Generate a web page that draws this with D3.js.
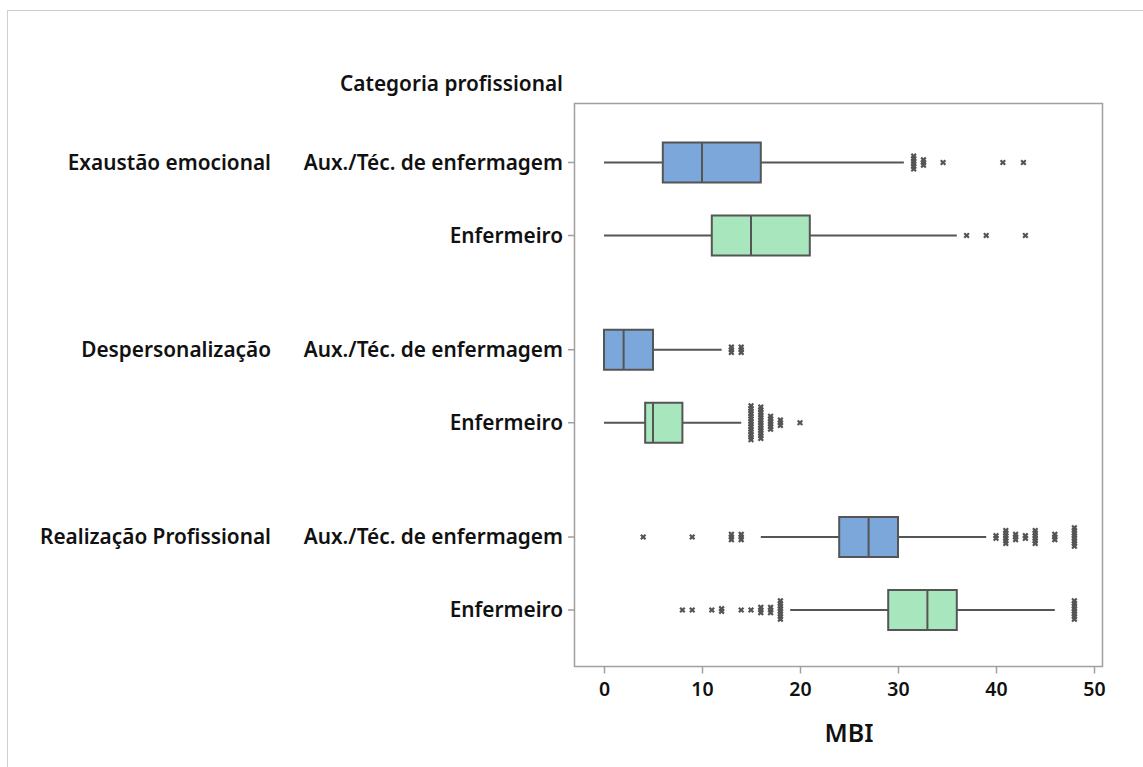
<!DOCTYPE html>
<html>
<head>
<meta charset="utf-8">
<script src="https://cdn.jsdelivr.net/npm/d3@7"></script>
<style>
  body { margin: 0; background: #fff; }
  text { font-family: 'Noto Sans', sans-serif; font-weight: 600; fill: #111; }
</style>
</head>
<body>
<div class="canvas"></div>
<script>
// data
const groups = ["Exaustão emocional", "Despersonalização", "Realização Profissional"];
const categories = ["Aux./Téc. de enfermagem", "Enfermeiro"];
const whiskerLow  = [[0, 0], [0, 0], [16, 19]];
const q1          = [[6, 11], [0, 4.2], [24, 29]];
const median      = [[10, 15], [2, 5], [27, 33]];
const q3          = [[16, 21], [5, 8], [30, 36]];
const whiskerHigh = [[30.6, 36], [12, 14], [39, 46]];
// outliers as [value, how many stacked]
const outliers = [
  [ [[31.6, 6], [32.6, 3], [34.6, 1], [40.7, 1], [42.8, 1]],
    [[37, 1], [39, 1], [43, 1]] ],
  [ [[13, 3], [14, 3]],
    [[15, 14], [16, 13], [17, 6], [18, 3], [20, 1]] ],
  [ [[4, 1], [9, 1], [13, 3], [14, 3], [40, 2], [41, 6], [42, 3], [43, 2], [44, 6], [46, 3], [48, 8]],
    [[8, 1], [9, 1], [11, 1], [12, 2], [14, 1], [15, 1], [16, 3], [17, 3], [18, 8], [48, 8]] ]
];
const xTicks = [0, 10, 20, 30, 40, 50];
const colors = ["#7ba7da", "#a8e6bd"];

const width = 1143, height = 767;
const frame = {left: 574, right: 1102, top: 103, bottom: 666};
const labelSize = '20.8px';

const svg = d3.select('.canvas')
  .append('svg')
    .attr('width', width)
    .attr('height', height);

// outer graph border
svg.append('rect')
  .attr('x', 7.5).attr('y', 10.5)
  .attr('width', 1150).attr('height', 780)
  .attr('fill', 'none')
  .attr('stroke', '#cfcfcf');

const x = d3.scaleLinear().domain([0, 50]).range([604, 1094]);

const yGroup = d3.scalePoint().domain(groups).range([199, 573.5]);
const yCat = d3.scalePoint().domain(categories).range([-36.5, 36.5]);
const rowY = (g, c) => yGroup(groups[g]) + yCat(categories[c]);

// plot frame
svg.append('rect')
  .attr('x', frame.left + 0.5).attr('y', frame.top + 0.5)
  .attr('width', frame.right - frame.left).attr('height', frame.bottom - frame.top)
  .attr('fill', 'none')
  .attr('stroke', '#a0a0a0')
  .attr('stroke-width', 1.5);

const rows = [];
groups.forEach((g, gi) => categories.forEach((c, ci) => rows.push({gi, ci})));

// left tick marks for categories
svg.selectAll('.ytick')
  .data(rows)
  .enter()
  .append('line')
    .attr('x1', frame.left - 6).attr('x2', frame.left)
    .attr('y1', d => rowY(d.gi, d.ci)).attr('y2', d => rowY(d.gi, d.ci))
    .attr('stroke', '#a0a0a0')
    .attr('stroke-width', 1.5);

// x axis
const xAxis = svg.append('g')
  .attr('transform', `translate(0,${frame.bottom + 0.5})`)
  .call(d3.axisBottom(x).tickValues(xTicks).tickSize(7).tickPadding(9));
xAxis.select('.domain').remove();
xAxis.selectAll('line').attr('stroke', '#a0a0a0').attr('stroke-width', 1.5);
xAxis.selectAll('text')
  .style('font-family', "'Noto Sans', sans-serif")
  .style('font-weight', 600)
  .style('font-size', '19.5px')
  .attr('fill', '#111');

svg.append('text')
  .attr('x', x(25)).attr('y', 742)
  .attr('text-anchor', 'middle')
  .style('font-size', '25px')
  .text('MBI');

svg.append('text')
  .attr('x', 563).attr('y', 91)
  .attr('text-anchor', 'end')
  .style('font-size', labelSize)
  .text('Categoria profissional');

// category and group labels
svg.selectAll('.catlabel')
  .data(rows)
  .enter()
  .append('text')
    .attr('x', 563)
    .attr('y', d => rowY(d.gi, d.ci) + 7)
    .attr('text-anchor', 'end')
    .style('font-size', labelSize)
    .text(d => categories[d.ci]);

svg.selectAll('.grplabel')
  .data(groups)
  .enter()
  .append('text')
    .attr('x', 271)
    .attr('y', (d, i) => rowY(i, 0) + 7)
    .attr('text-anchor', 'end')
    .style('font-size', labelSize)
    .text(d => d);

const boxH = 40;

// whiskers
svg.selectAll('.whisker')
  .data(rows)
  .enter()
  .append('line')
    .attr('x1', d => x(whiskerLow[d.gi][d.ci]))
    .attr('x2', d => x(whiskerHigh[d.gi][d.ci]))
    .attr('y1', d => rowY(d.gi, d.ci))
    .attr('y2', d => rowY(d.gi, d.ci))
    .attr('stroke', '#555')
    .attr('stroke-width', 2);

// boxes
svg.selectAll('.box')
  .data(rows)
  .enter()
  .append('rect')
    .attr('x', d => x(q1[d.gi][d.ci]))
    .attr('y', d => rowY(d.gi, d.ci) - boxH / 2)
    .attr('width', d => x(q3[d.gi][d.ci]) - x(q1[d.gi][d.ci]))
    .attr('height', boxH)
    .attr('fill', d => colors[d.ci])
    .attr('stroke', '#555')
    .attr('stroke-width', 2);

// medians
svg.selectAll('.median')
  .data(rows)
  .enter()
  .append('line')
    .attr('x1', d => x(median[d.gi][d.ci]))
    .attr('x2', d => x(median[d.gi][d.ci]))
    .attr('y1', d => rowY(d.gi, d.ci) - boxH / 2)
    .attr('y2', d => rowY(d.gi, d.ci) + boxH / 2)
    .attr('stroke', '#555')
    .attr('stroke-width', 2);

// outlier symbols, stacked when repeated
const pts = [];
rows.forEach(r => {
  outliers[r.gi][r.ci].forEach(([v, n]) => {
    for (let k = 0; k < n; k++) {
      pts.push({v, y: rowY(r.gi, r.ci) + (k - (n - 1) / 2) * 2.6});
    }
  });
});

const sym = d3.symbol().type(d3.symbolCross).size(24);
svg.selectAll('.outlier')
  .data(pts)
  .enter()
  .append('path')
    .attr('d', sym)
    .attr('transform', d => `translate(${x(d.v)},${d.y}) rotate(45)`)
    .attr('fill', '#555');
</script>
</body>
</html>
